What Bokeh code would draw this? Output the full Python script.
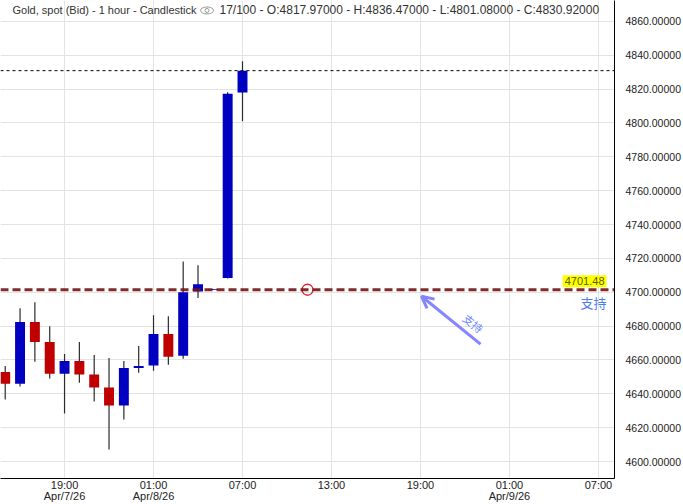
import pandas as pd
from bokeh.plotting import figure
from bokeh.models import (ColumnDataSource, LinearAxis, FixedTicker, NumeralTickFormatter,
                          Grid, Span, Label, Arrow, OpenHead, Range1d)
from bokeh.embed import file_html
from bokeh.resources import INLINE

# ---------------- data ----------------
times = ["2026-04-07 15:00", "2026-04-07 16:00", "2026-04-07 17:00", "2026-04-07 18:00",
         "2026-04-07 19:00", "2026-04-07 20:00", "2026-04-07 21:00", "2026-04-07 22:00",
         "2026-04-07 23:00", "2026-04-08 00:00", "2026-04-08 01:00", "2026-04-08 02:00",
         "2026-04-08 03:00", "2026-04-08 04:00", "2026-04-08 05:00", "2026-04-08 06:00",
         "2026-04-08 07:00"]
opens = [4652.9, 4645.9, 4682.4, 4670.6, 4651.9, 4659.4, 4651.4, 4643.7, 4633.1,
         4655.3, 4656.7, 4675.3, 4662.5, 4700.4, 4701.5, 4708.4, 4817.97]
highs = [4656.5, 4690.6, 4694.1, 4680.0, 4663.5, 4670.6, 4662.9, 4661.2, 4659.4,
         4668.2, 4686.5, 4685.9, 4718.2, 4715.9, 4702.0, 4818.2, 4836.47]
lows = [4636.6, 4644.3, 4659.0, 4649.0, 4628.4, 4646.6, 4635.5, 4607.2, 4624.9,
        4652.5, 4653.7, 4657.2, 4660.8, 4696.6, 4701.3, 4708.2, 4801.08]
closes = [4645.9, 4682.4, 4670.6, 4651.9, 4659.4, 4651.4, 4643.7, 4633.1, 4655.3,
          4656.5, 4675.3, 4661.9, 4700.0, 4704.7, 4701.9, 4817.2, 4830.92]

support_level = 4701.48
last_close = 4830.92
support_text = "支持"

xtick_times = ["2026-04-07 19:00", "2026-04-08 01:00", "2026-04-08 07:00", "2026-04-08 13:00",
               "2026-04-08 19:00", "2026-04-09 01:00", "2026-04-09 07:00"]
xtick_labels = ["19:00\nApr/7/26", "01:00\nApr/8/26", "07:00", "13:00", "19:00",
                "01:00\nApr/9/26", "07:00"]
ytick_values = [4600, 4620, 4640, 4660, 4680, 4700, 4720, 4740, 4760, 4780, 4800, 4820, 4840, 4860]

title_a = "Gold, spot (Bid) - 1 hour - Candlestick"
title_b = "17/100 - O:4817.97000 - H:4836.47000 - L:4801.08000 - C:4830.92000"

# ---------------- helpers (pixel -> data, for annotations) ----------------
T0 = pd.Timestamp("2026-04-08 07:00")
def ms(ts):
    return pd.Timestamp(ts).value / 1e6
def xd(px):
    return ms(T0 + pd.Timedelta(hours=(px - 242) / 14.83))
def yd(py):
    return 4860 - (py - 21) / 1.7

HOUR = 3600 * 1000.0
xs = [ms(t) for t in times]
up = [c >= o for o, c in zip(opens, closes)]
src = ColumnDataSource(dict(
    x=xs, open=opens, close=closes, high=highs, low=lows,
    top=[max(o, c) for o, c in zip(opens, closes)],
    bottom=[min(o, c) for o, c in zip(opens, closes)],
    color=["#0000c0" if u else "#c00000" for u in up],
))

FONT = "Liberation Sans"

p = figure(width=683, height=504, output_backend="svg", toolbar_location=None,
           x_axis_type=None, y_axis_location="right",
           x_range=Range1d(xd(0), xd(614)), y_range=Range1d(yd(480), yd(0)),
           min_border_left=0, min_border_top=0, min_border_right=0, min_border_bottom=0)
p.outline_line_color = None
p.background_fill_color = "white"

# y axis (right)
ya = p.yaxis[0]
ya.ticker = FixedTicker(ticks=ytick_values)
ya.formatter = NumeralTickFormatter(format="0.00000")
ya.major_tick_line_color = None
ya.minor_tick_line_color = None
ya.major_tick_out = 0
ya.major_tick_in = 0
ya.major_label_standoff = 11
ya.major_label_text_font = FONT
ya.major_label_text_font_size = "10.5px"
ya.major_label_text_color = "#222222"
ya.axis_line_color = "black"
p.ygrid.ticker = FixedTicker(ticks=ytick_values)
p.ygrid.grid_line_color = "#e3e3e3"

# x axis (below)
xt = [ms(t) for t in xtick_times]
xa = LinearAxis(ticker=FixedTicker(ticks=xt),
                major_label_overrides={t: l for t, l in zip(xt, xtick_labels)})
xa.major_tick_line_color = None
xa.minor_tick_line_color = None
xa.major_tick_out = 0
xa.major_tick_in = 0
xa.major_label_standoff = 0
xa.major_label_text_font = "Liberation Sans Narrow, Liberation Sans"
xa.major_label_text_font_size = "11px"
xa.major_label_text_line_height = 0.95
xa.major_label_text_color = "#222222"
xa.axis_line_color = "black"
p.add_layout(xa, "below")
p.add_layout(Grid(dimension=0, ticker=FixedTicker(ticks=xt), grid_line_color="#e3e3e3"))

# candles
p.segment("x", "high", "x", "low", source=src, line_color="#2b2b2b", line_width=1.2)
p.vbar(x="x", top="top", bottom="bottom", width=0.67 * HOUR, source=src,
       fill_color="color", line_color="color", line_width=0)

# last close dotted line
p.add_layout(Span(location=last_close, dimension="width", line_color="black",
                  line_width=1, line_dash="3 3"))
# support dashed line
p.add_layout(Span(location=support_level, dimension="width", line_color="#731515",
                  line_alpha=0.9, line_width=3, line_dash="8 4"))

# red circle marker on support
p.scatter([xd(307)], [support_level], marker="circle", size=11, fill_color=None,
          line_color="#e02020", line_width=1.3)

# arrow + rotated text
p.add_layout(Arrow(end=OpenHead(size=12, line_color="#8585ff", line_width=3),
                   x_start=xd(480), y_start=yd(345), x_end=xd(421), y_end=yd(297),
                   line_color="#8585ff", line_width=3))
p.add_layout(Label(x=xd(473), y=yd(324), text=support_text, angle=-39, angle_units="deg",
                   text_align="center", text_baseline="middle", text_font_size="11px",
                   text_font="Noto Sans CJK SC", text_color="#6a88ff"))

# support price tag + text
p.add_layout(Label(x=xd(606), y=yd(282), text=f"{support_level:.2f}", text_align="right",
                   text_baseline="middle", text_font=FONT, text_font_size="11px",
                   text_color="#5a6000", background_fill_color="#ffff00", padding=2))
p.add_layout(Label(x=xd(593), y=yd(303), text=support_text, text_align="center",
                   text_baseline="middle", text_font="Noto Sans CJK SC", text_font_size="13px",
                   text_color="#4f7cf0"))

# last price tag on axis
p.add_layout(Label(x=xd(623), y=yd(71), text=f"{last_close:.5f}", text_align="left",
                   text_baseline="middle", text_font=FONT, text_font_size="10.5px",
                   text_color="white", background_fill_color="#0000c0", padding=1))

# axis icon
p.add_layout(Label(x=xd(651), y=yd(242), text="━", text_align="center",
                   text_baseline="middle", text_font="DejaVu Sans", text_font_size="11px",
                   text_color="black"))
p.add_layout(Label(x=xd(651), y=yd(247), text="◆", text_align="center",
                   text_baseline="middle", text_font="DejaVu Sans", text_font_size="7px",
                   text_color="black"))
p.add_layout(Label(x=xd(651), y=yd(251), text="━", text_align="center",
                   text_baseline="middle", text_font="DejaVu Sans", text_font_size="11px",
                   text_color="black"))

# title
p.add_layout(Label(x=xd(12), y=yd(10), text=title_a, text_align="left", text_baseline="middle",
                   text_font=FONT, text_font_size="11px", text_color="#333333"))
p.ellipse([xd(206.5)], [yd(10)], width=13, height=7, width_units="screen",
          height_units="screen", fill_color=None, line_color="#999999", line_width=1)
p.scatter([xd(206.5)], [yd(10)], marker="circle", size=4, fill_color=None,
          line_color="#999999", line_width=1)
p.add_layout(Label(x=xd(219), y=yd(10), text=title_b, text_align="left", text_baseline="middle",
                   text_font=FONT, text_font_size="12px", text_color="#333333"))

open("out.html", "w").write(file_html(p, INLINE))
